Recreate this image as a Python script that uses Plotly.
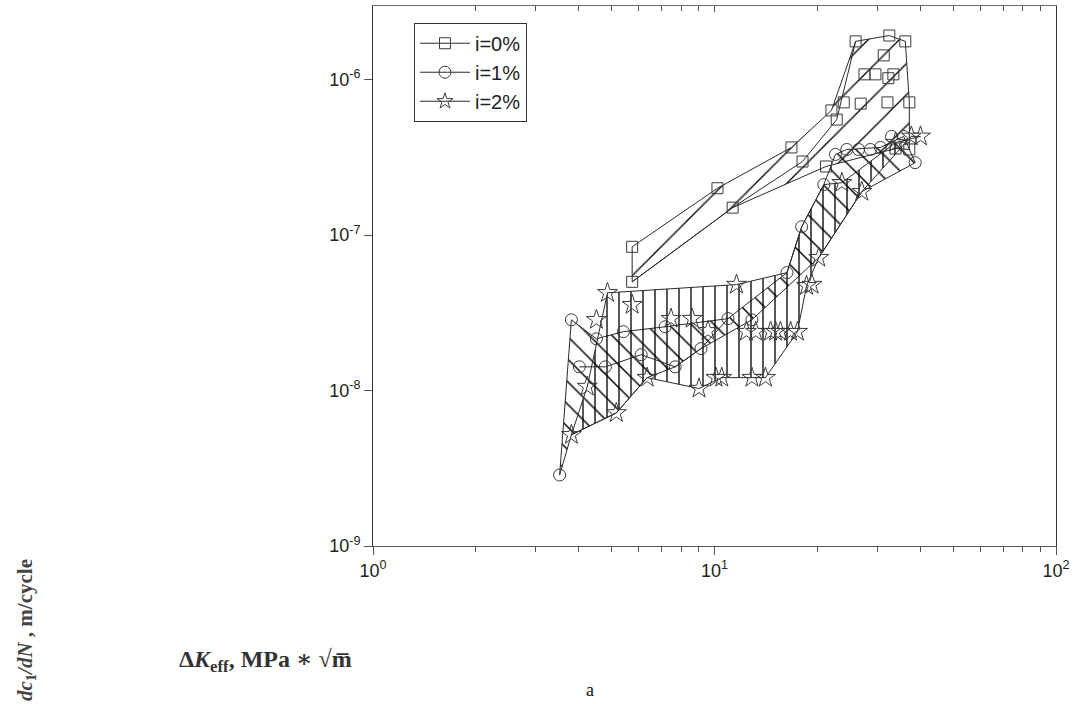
import plotly.graph_objects as go

# ---- data ----
# i = 0 % (squares)
sq_x = [5.74, 5.74, 10.2, 11.3, 16.8, 18.1, 21.2, 22.0, 22.8, 23.9, 25.9, 26.8,
        27.5, 29.6, 31.3, 32.1, 32.3, 32.5, 33.4, 33.9, 36.2, 37.2, 37.2]
sq_y = [8.4e-8, 5.0e-8, 2.0e-7, 1.5e-7, 3.66e-7, 2.97e-7, 2.76e-7, 6.33e-7, 5.53e-7,
        7.13e-7, 1.76e-6, 7.0e-7, 1.08e-6, 1.08e-6, 1.43e-6, 7.13e-7, 1.02e-6,
        1.92e-6, 1.08e-6, 3.6e-7, 1.76e-6, 7.13e-7, 3.55e-7]
band0_x = [5.74, 5.74, 10.2, 16.8, 22.0, 25.9, 32.5, 36.2, 37.2, 37.2, 33.9, 21.2, 11.3, 5.74]
band0_y = [5.0e-8, 8.4e-8, 2.0e-7, 3.66e-7, 6.33e-7, 1.76e-6, 1.92e-6, 1.76e-6,
           7.13e-7, 3.55e-7, 3.6e-7, 2.76e-7, 1.5e-7, 5.0e-8]

# i = 1 % (circles)
ci_x = [3.52, 3.81, 4.02, 4.51, 4.79, 5.41, 6.10, 7.17, 7.67, 9.13, 10.95, 12.87,
        16.3, 18.0, 20.9, 22.6, 24.4, 26.4, 28.6, 30.6, 33.0, 35.8, 38.7]
ci_y = [2.86e-9, 2.85e-8, 1.42e-8, 2.15e-8, 1.42e-8, 2.39e-8, 1.70e-8, 2.57e-8,
        1.42e-8, 1.86e-8, 2.90e-8, 2.85e-8, 5.73e-8, 1.13e-7, 2.11e-7, 3.30e-7,
        3.55e-7, 3.55e-7, 3.55e-7, 3.66e-7, 4.31e-7, 4.31e-7, 2.92e-7]
band1_x = [3.52, 3.81, 4.51, 5.41, 7.17, 10.95, 16.3, 18.0, 20.9, 22.6, 24.4, 30.6,
           35.8, 38.7, 27.0, 20.2, 12.87, 9.13, 7.67, 6.35, 5.16, 3.81, 3.52]
band1_y = [2.86e-9, 2.85e-8, 2.15e-8, 2.39e-8, 2.57e-8, 2.90e-8, 5.73e-8, 1.13e-7,
           2.11e-7, 3.30e-7, 3.55e-7, 3.66e-7, 4.31e-7, 2.92e-7, 1.90e-7, 7.15e-8,
           2.85e-8, 1.86e-8, 1.42e-8, 1.21e-8, 7.18e-9, 5.19e-9, 2.86e-9]

# i = 2 % (stars)
st_x = [3.81, 4.24, 4.51, 4.86, 5.16, 5.74, 6.35, 7.46, 8.60, 9.01, 9.57, 10.1,
        10.5, 11.6, 12.4, 13.2, 12.87, 14.1, 14.6, 15.1, 15.6, 16.7, 17.5, 18.6,
        19.3, 20.2, 23.6, 27.0, 33.9, 37.7, 40.1]
st_y = [5.19e-9, 1.06e-8, 2.85e-8, 4.25e-8, 7.18e-9, 3.56e-8, 1.21e-8, 2.90e-8,
        2.90e-8, 1.03e-8, 2.42e-8, 1.21e-8, 1.21e-8, 4.80e-8, 2.39e-8, 2.39e-8,
        1.21e-8, 1.21e-8, 2.39e-8, 2.39e-8, 2.39e-8, 2.39e-8, 2.39e-8, 4.72e-8,
        4.80e-8, 7.15e-8, 2.17e-7, 1.90e-7, 3.93e-7, 4.31e-7, 4.31e-7]
band2_x = [3.81, 4.24, 4.86, 11.6, 16.3, 18.0, 20.9, 23.6, 33.9, 40.1, 37.7, 27.0,
           20.2, 18.6, 17.5, 14.1, 12.87, 10.5, 9.01, 6.35, 5.16, 3.81]
band2_y = [5.19e-9, 1.06e-8, 4.25e-8, 4.80e-8, 5.73e-8, 1.13e-7, 2.11e-7, 2.17e-7,
           3.93e-7, 4.31e-7, 4.31e-7, 1.90e-7, 7.15e-8, 4.72e-8, 2.39e-8, 1.21e-8,
           1.21e-8, 1.21e-8, 1.03e-8, 1.21e-8, 7.18e-9, 5.19e-9]

# interior connecting lines seen in the picture
mid1_x = [4.02, 4.79, 6.10, 7.67, 9.13, 10.95]
mid1_y = [1.42e-8, 1.42e-8, 1.70e-8, 1.42e-8, 1.86e-8, 2.90e-8]
mid0_x = [5.74, 11.3, 18.1, 22.8, 25.9]
mid0_y = [5.0e-8, 1.5e-7, 2.97e-7, 5.53e-7, 1.76e-6]

series_names = ["i=0%", "i=1%", "i=2%"]
x_ticks = [1, 10, 100]
x_ticktext = ["10<sup>0</sup>", "10<sup>1</sup>", "10<sup>2</sup>"]
y_ticks = [1e-9, 1e-8, 1e-7, 1e-6]
y_ticktext = ["10<sup>-9</sup>", "10<sup>-8</sup>", "10<sup>-7</sup>", "10<sup>-6</sup>"]
x_minor = [2, 3, 4, 5, 6, 7, 8, 9, 20, 30, 40, 50, 60, 70, 80, 90]

LINE = "#2a2a2a"
MK = "#3a3a3a"

fig = go.Figure()

bands = [(band0_x, band0_y, "/", 22, 0.06),
         (band1_x, band1_y, "\\", 16, 0.09),
         (band2_x, band2_y, "|", 12, 0.11)]
for bx, by, shp, sz, sol in bands:
    fig.add_trace(go.Scatter(
        x=bx, y=by, mode="lines", fill="toself",
        fillcolor="rgba(0,0,0,0)",
        fillpattern=dict(shape=shp, size=sz, solidity=sol, fgcolor="#000000",
                         bgcolor="rgba(0,0,0,0)", fgopacity=1),
        line=dict(color=LINE, width=1), showlegend=False, hoverinfo="skip"))

for lx, ly in [(mid1_x, mid1_y), (mid0_x, mid0_y)]:
    fig.add_trace(go.Scatter(x=lx, y=ly, mode="lines", line=dict(color=LINE, width=1),
                             showlegend=False, hoverinfo="skip"))

markers = [(sq_x, sq_y, "square-open", 11),
           (ci_x, ci_y, "circle-open", 12),
           (st_x, st_y, "star-open", 15)]
for (mx, my, sym, sz), name in zip(markers, series_names):
    fig.add_trace(go.Scatter(
        x=mx, y=my, mode="markers",
        marker=dict(symbol=sym, size=sz, color=MK, line=dict(color=MK, width=1)),
        showlegend=False, name=name))
    # legend entry (line + marker)
    fig.add_trace(go.Scatter(
        x=[None], y=[None], mode="lines+markers", name=name,
        marker=dict(symbol=sym, size=min(sz, 12), color=MK, line=dict(color=MK, width=1)),
        line=dict(color=LINE, width=1)))

# invisible trace to carry the top axis
fig.add_trace(go.Scatter(x=[1, 100], y=[1e-9, 1e-9], xaxis="x2", mode="markers",
                         marker=dict(opacity=0), showlegend=False, hoverinfo="skip"))

TICKFONT = dict(family="Liberation Sans, Arial, sans-serif", size=18, color="#222")

fig.update_layout(
    width=1076, height=704,
    margin=dict(l=373, r=18, t=6, b=158),
    paper_bgcolor="white", plot_bgcolor="white",
    showlegend=True,
    legend=dict(x=0.06, y=0.969, xanchor="left", yanchor="top",
                bgcolor="white", bordercolor="#333", borderwidth=1,
                font=dict(family="Liberation Sans, Arial, sans-serif", size=20, color="#222"),
                itemwidth=50, tracegroupgap=0),
    xaxis=dict(type="log", range=[0, 2], tickmode="array", tickvals=x_ticks,
               ticktext=x_ticktext, ticks="outside", ticklen=8, tickcolor="#555",
               showgrid=False, zeroline=False, showline=True, linecolor="#555",
               linewidth=1, tickfont=TICKFONT, mirror=False,
               minor=dict(tickmode="array", tickvals=x_minor, ticks="outside",
                          ticklen=5, tickcolor="#555", showgrid=False)),
    xaxis2=dict(type="log", range=[0, 2], overlaying="x", side="top",
                tickmode="array", tickvals=x_ticks, showticklabels=False,
                ticks="inside", ticklen=6, tickcolor="#555",
                showgrid=False, zeroline=False, showline=True, linecolor="#666",
                linewidth=1,
                minor=dict(tickmode="array", tickvals=x_minor, ticks="inside",
                           ticklen=5, tickcolor="#555", showgrid=False)),
    yaxis=dict(type="log", range=[-9, -5.527], tickmode="array", tickvals=y_ticks,
               ticktext=y_ticktext, ticks="outside", ticklen=8, tickcolor="#555",
               showgrid=False, zeroline=False, showline=True, linecolor="#333",
               linewidth=1, mirror=True, tickfont=TICKFONT),
)

SERIF = "Liberation Serif, DejaVu Serif, serif"
fig.add_annotation(xref="paper", yref="paper", x=-0.509, y=-0.155,
                   xanchor="center", yanchor="middle",
                   text="<b><i>dc</i><sub>1</sub><i>/dN</i> , m/cycle</b>",
                   textangle=-90, showarrow=False,
                   font=dict(family=SERIF, size=21, color="#444"))
fig.add_annotation(xref="paper", yref="paper", x=-0.158, y=-0.213,
                   xanchor="center", yanchor="middle",
                   text="<b>Δ<i>K</i><sub>eff</sub>, MPa ∗ √m̅</b>",
                   showarrow=False, font=dict(family=SERIF, size=24, color="#333"))
fig.add_annotation(xref="paper", yref="paper", x=0.317, y=-0.267,
                   xanchor="center", yanchor="middle",
                   text="a", showarrow=False,
                   font=dict(family=SERIF, size=18, color="#111"))

fig.write_html("out.html")
